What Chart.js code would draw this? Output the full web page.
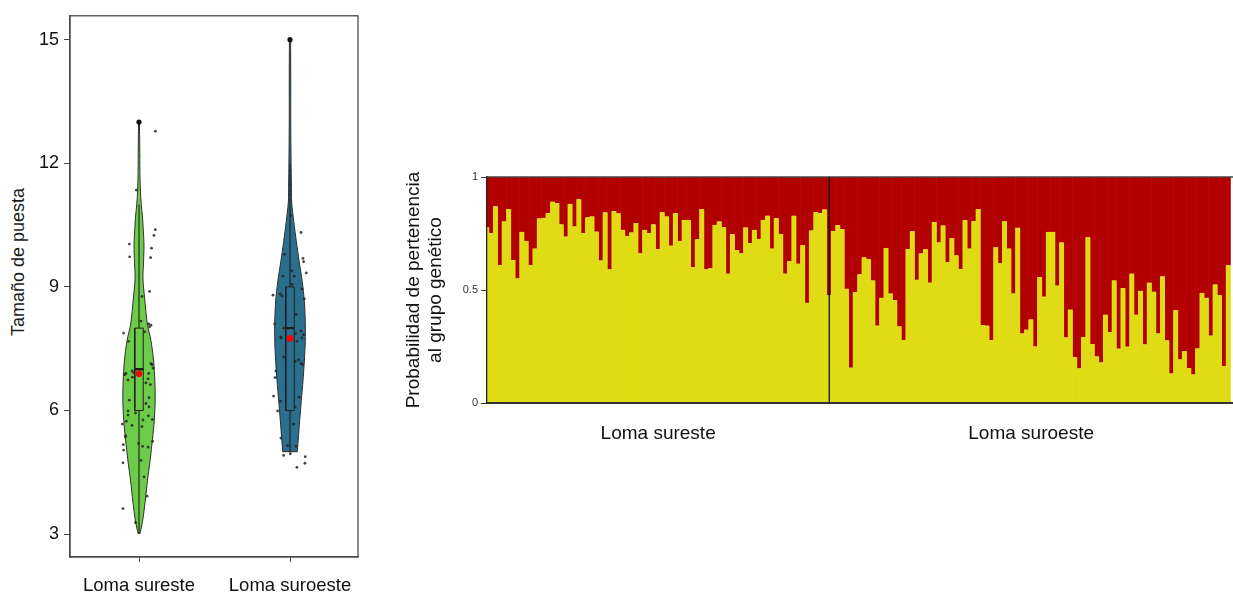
<!DOCTYPE html>
<html><head><meta charset="utf-8">
<script src="https://cdn.jsdelivr.net/npm/chart.js@4/dist/chart.umd.min.js"></script>
<style>
html,body{margin:0;padding:0;background:#fff;width:1233px;height:594px;overflow:hidden;position:relative}
#c1{position:absolute;left:0;top:0;width:370px;height:594px}
#c2{position:absolute;left:370px;top:0;width:863px;height:594px}
#ytitle{position:absolute;left:18px;top:262px;transform:translate(-50%,-50%) rotate(-90deg);font:18px "Liberation Sans",Arial,Helvetica,sans-serif;white-space:nowrap;color:#1a1a1a}
</style></head><body>
<div id="ytitle">Tamaño de puesta</div>
<canvas id="c1" width="370" height="594"></canvas>
<canvas id="c2" width="863" height="594"></canvas>
<script>
// ---------- Violin plot data ----------
const groups = ['Loma sureste', 'Loma suroeste'];
const clutchTicks = [3, 6, 9, 12, 15];

const greenDensityY = [3.0, 3.3, 3.8, 4.3, 4.8, 5.3, 5.75, 6.25, 6.7, 7.2, 7.7, 8.1, 8.7, 9.2, 9.6, 10.0, 10.4, 10.7, 11.0, 11.35, 11.8, 12.4, 13.0];
const greenDensityW = [0.005, 0.023, 0.041, 0.056, 0.074, 0.089, 0.101, 0.107, 0.105, 0.097, 0.079, 0.055, 0.038, 0.026, 0.030, 0.033, 0.028, 0.023, 0.015, 0.009, 0.006, 0.005, 0.003];
const blueDensityY = [5.0, 5.27, 5.75, 6.24, 6.72, 7.2, 7.68, 8.17, 8.65, 9.13, 9.61, 10.1, 10.58, 11.06, 11.5, 12, 13, 14, 15];
const blueDensityW = [0.048, 0.054, 0.064, 0.075, 0.086, 0.095, 0.101, 0.101, 0.095, 0.081, 0.061, 0.042, 0.025, 0.011, 0.009, 0.007, 0.005, 0.005, 0.004];

const greenBox = [3, 6, 7, 8, 11];   // min, q1, median, q3, max
const blueBox  = [5, 6, 8, 9, 12];
const groupMeans = [6.89, 7.75];
const greenOutliers = [13];
const blueOutliers = [15];

const greenPtsY = [12.78, 11.35, 10.39, 10.25, 10.04, 9.94, 9.73, 9.71, 8.89, 8.77, 8.17, 8.10, 8.07, 8.03, 7.88, 7.91, 7.68, 7.14, 7.11, 7.03, 6.90, 6.87, 6.96, 6.92, 6.90, 6.74, 6.81, 6.77, 6.67, 6.63, 6.31, 6.25, 6.17, 6.09, 5.99, 5.89, 5.87, 5.94, 5.77, 5.78, 5.74, 5.67, 5.64, 5.61, 5.39, 5.36, 5.25, 5.20, 5.17, 5.13, 5.11, 5.04, 4.79, 4.73, 4.39, 3.92, 3.62, 3.28];
const greenPtsJitter = [0.108, -0.018, 0.108, 0.099, -0.064, 0.083, -0.062, 0.077, 0.070, 0.020, 0.013, 0.064, 0.079, 0.070, -0.102, 0.037, -0.069, 0.079, 0.086, 0.093, -0.086, -0.095, -0.046, -0.036, 0.064, -0.073, -0.044, 0.060, 0.046, 0.075, 0.066, -0.064, 0.046, 0.066, -0.073, -0.073, 0.062, -0.023, 0.026, 0.088, -0.084, -0.111, -0.046, 0.020, -0.089, -0.091, 0.090, -0.003, -0.104, 0.024, 0.060, -0.102, 0.013, -0.106, 0.033, 0.053, -0.106, -0.023];
const bluePtsY = [10.73, 10.32, 9.79, 9.69, 9.61, 9.34, 9.39, 9.26, 9.26, 9.06, 8.95, 8.80, 8.83, 8.78, 8.71, 8.33, 8.10, 8.00, 7.93, 7.76, 7.78, 7.84, 7.76, 7.87, 7.68, 7.30, 7.23, 7.19, 7.12, 7.14, 6.96, 6.80, 6.35, 6.23, 6.32, 5.99, 6.09, 5.67, 5.33, 5.15, 5.13, 4.91, 4.95, 4.88, 4.72, 4.62];
const bluePtsJitter = [0.004, 0.073, -0.036, 0.086, 0.090, 0.108, 0.013, -0.046, 0.028, 0.015, 0.079, -0.113, -0.064, -0.053, 0.095, 0.040, -0.102, -0.042, 0.073, -0.058, -0.062, 0.090, 0.079, 0.037, 0.046, -0.042, 0.057, 0.035, 0.083, 0.073, -0.093, -0.099, -0.109, -0.064, 0.060, -0.082, 0.033, 0.024, -0.060, -0.016, 0.040, -0.042, 0.002, 0.101, 0.099, 0.046];

// ---------- STRUCTURE plot data (membership to cluster 1, yellow) ----------
const siteNames = ['Loma sureste', 'Loma suroeste'];
const probTicks = [0, 0.5, 1];
const suresteQ = [0.778, 0.751, 0.870, 0.609, 0.803, 0.858, 0.633, 0.551, 0.757, 0.717,
  0.609, 0.683, 0.816, 0.819, 0.840, 0.890, 0.884, 0.790, 0.736, 0.881,
  0.781, 0.901, 0.751, 0.821, 0.825, 0.758, 0.630, 0.843, 0.591, 0.849,
  0.839, 0.766, 0.739, 0.754, 0.796, 0.662, 0.766, 0.751, 0.790,
  0.680, 0.844, 0.825, 0.696, 0.840, 0.717, 0.810, 0.810, 0.601, 0.724,
  0.858, 0.591, 0.596, 0.788, 0.803, 0.778, 0.572, 0.747, 0.677, 0.662,
  0.776, 0.707, 0.766, 0.726, 0.810, 0.828, 0.683, 0.818, 0.748, 0.572,
  0.627, 0.828, 0.616, 0.699, 0.443, 0.763, 0.844, 0.840, 0.856];
const suroesteQ = [0.476, 0.761, 0.787, 0.770, 0.505, 0.156, 0.490, 0.569, 0.644, 0.636,
  0.542, 0.342, 0.465, 0.686, 0.484, 0.455, 0.339, 0.279, 0.681, 0.761,
  0.545, 0.662, 0.680, 0.532, 0.801, 0.710, 0.785, 0.624, 0.729, 0.653,
  0.593, 0.809, 0.683, 0.804, 0.858, 0.345, 0.342, 0.279, 0.689, 0.618,
  0.804, 0.683, 0.484, 0.775, 0.307, 0.324, 0.369, 0.250, 0.557, 0.470,
  0.757, 0.757, 0.519, 0.710, 0.290, 0.413, 0.203, 0.153, 0.292, 0.733,
  0.261, 0.206, 0.179, 0.390, 0.313, 0.542, 0.240, 0.508, 0.249, 0.572,
  0.390, 0.496, 0.259, 0.532, 0.492, 0.307, 0.560, 0.277, 0.130, 0.410,
  0.193, 0.230, 0.154, 0.126, 0.241, 0.487, 0.465, 0.298, 0.524, 0.477,
  0.164, 0.609];

// ---------- common ----------
Chart.defaults.font.family = '"Liberation Sans", Arial, Helvetica, sans-serif';
Chart.defaults.animation = false;
Chart.defaults.plugins.legend.display = false;
Chart.defaults.plugins.tooltip.enabled = false;

const GREEN = '#6CCB48', BLUE = '#2B6F8E', OUTLINE = '#2e2e2e';
const BOX_HALF = 0.028;

function violinHalves(center, ys, ws, color) {
  return [1, -1].map(sign => ({
    type: 'line', indexAxis: 'y',
    data: ys.map((y, i) => ({x: center + sign * ws[i], y})),
    fill: {value: center}, backgroundColor: color,
    borderColor: OUTLINE, borderWidth: 1, pointRadius: 0, tension: 0.3, order: 10
  }));
}
function lineDs(points, width, order) {
  return {type: 'line', data: points, borderColor: '#1e1e1e', borderWidth: width,
    pointRadius: 0, fill: false, tension: 0, order};
}
function boxDatasets(center, b) {
  const [mn, q1, md, q3, mx] = b;
  return [
    lineDs([{x: center - BOX_HALF, y: q1}, {x: center + BOX_HALF, y: q1}, {x: center + BOX_HALF, y: q3},
            {x: center - BOX_HALF, y: q3}, {x: center - BOX_HALF, y: q1}], 1, 5),
    lineDs([{x: center - BOX_HALF, y: md}, {x: center + BOX_HALF, y: md}], 2.4, 5),
    lineDs([{x: center, y: mn}, {x: center, y: q1}], 1.1, 6),
    lineDs([{x: center, y: q3}, {x: center, y: mx}], 1.1, 6)
  ];
}
function pts(center, ys, jit, color, r, order) {
  return {type: 'scatter', data: ys.map((y, i) => ({x: center + (jit ? jit[i] : 0), y})),
    backgroundColor: color, borderWidth: 0, pointRadius: r, order};
}

const frame = {
  id: 'frame',
  afterDraw(chart) {
    const {ctx, chartArea: a} = chart;
    ctx.save(); ctx.strokeStyle = '#4a4a4a'; ctx.lineWidth = 1.3;
    ctx.strokeRect(a.left, a.top, a.right - a.left, a.bottom - a.top);
    ctx.restore();
  }
};

const violinData = [
  ...violinHalves(1, greenDensityY, greenDensityW, GREEN),
  ...violinHalves(2, blueDensityY, blueDensityW, BLUE),
  lineDs([{x: 2 - blueDensityW[0], y: blueDensityY[0]}, {x: 2 + blueDensityW[0], y: blueDensityY[0]}], 1, 9),
  ...boxDatasets(1, greenBox),
  ...boxDatasets(2, blueBox),
  pts(1, greenPtsY, greenPtsJitter, 'rgba(35,35,35,0.85)', 1.4, 3),
  pts(2, bluePtsY, bluePtsJitter, 'rgba(35,35,35,0.85)', 1.4, 3),
  pts(1, greenOutliers, null, '#111', 2.6, 2),
  pts(2, blueOutliers, null, '#111', 2.6, 2),
  {type: 'scatter', data: groupMeans.map((m, i) => ({x: i + 1, y: m})), backgroundColor: '#ff0000', borderWidth: 0, pointRadius: 3.3, order: 1}
];

new Chart(document.getElementById('c1'), {
  type: 'scatter',
  data: {datasets: violinData},
  options: {
    responsive: false,
    layout: {padding: {left: 0, right: 12, top: 13, bottom: 0}},
    scales: {
      x: {
        type: 'linear', min: 0.543, max: 2.4503,
        afterBuildTicks: ax => { ax.ticks = groups.map((_, i) => ({value: i + 1})); },
        afterFit: ax => { ax.height = 37; },
        ticks: {callback: v => groups[Math.round(v) - 1], font: {size: 18.5}, color: '#111', padding: 13, maxRotation: 0, autoSkip: false},
        grid: {drawOnChartArea: false, drawTicks: true, tickLength: 5, color: '#444'},
        border: {color: '#4a4a4a', width: 1.3}
      },
      y: {
        type: 'linear', min: 2.4447, max: 15.5795,
        afterBuildTicks: ax => { ax.ticks = clutchTicks.map(v => ({value: v})); },
        afterFit: ax => { ax.width = 70; },
        ticks: {font: {size: 18}, color: '#111', padding: 5},
        grid: {drawOnChartArea: false, drawTicks: true, tickLength: 6, color: '#444'},
        border: {color: '#4a4a4a', width: 1.3}
      }
    }
  },
  plugins: [frame]
});

// ---------- STRUCTURE bar plot ----------
const q1All = suresteQ.concat(suroesteQ);
const q2All = q1All.map(v => 1 - v);
const ids = q1All.map((_, i) => String(i + 1));
const nTotal = q1All.length;
const groupCenters = [suresteQ.length / 2, suresteQ.length + suroesteQ.length / 2];

const BAR_W = 5;
const barCommon = {borderWidth: 0, barThickness: BAR_W, inflateAmount: 0, order: 5};

new Chart(document.getElementById('c2'), {
  type: 'bar',
  data: {
    labels: ids,
    datasets: [
      {...barCommon, data: q1All, backgroundColor: '#DFDB14'},
      {...barCommon, data: q2All, backgroundColor: '#B20000'},
      {type: 'line', xAxisID: 'x2', stack: 'divider', data: [{x: suresteQ.length, y: 0}, {x: suresteQ.length, y: 1}],
        borderColor: '#111', borderWidth: 1.3, pointRadius: 0, fill: false, order: 1},
      {type: 'line', xAxisID: 'x2', stack: 'topline', data: [{x: 0, y: 1}, {x: nTotal, y: 1}],
        borderColor: '#444', borderWidth: 1.5, pointRadius: 0, fill: false, order: 1, clip: 2}
    ]
  },
  options: {
    responsive: false,
    datasets: {bar: {barThickness: BAR_W, barPercentage: 1, categoryPercentage: 1}},
    layout: {padding: {left: 0, right: 0, top: 177, bottom: 131}},
    scales: {
      x: {type: 'category', stacked: true, display: false, offset: true},
      x2: {
        type: 'linear', position: 'bottom', min: 0, max: nTotal, offset: false,
        afterBuildTicks: ax => { ax.ticks = groupCenters.map(v => ({value: v})); },
        afterFit: ax => { ax.height = 60; },
        ticks: {callback: (v, i) => siteNames[i], font: {size: 19}, color: '#111', padding: 19, maxRotation: 0, autoSkip: false},
        grid: {display: false, drawTicks: false, offset: false},
        border: {display: true, color: '#333', width: 2, z: 1}
      },
      y: {
        stacked: true, min: 0, max: 1,
        afterBuildTicks: ax => { ax.ticks = probTicks.map(v => ({value: v})); },
        afterFit: ax => { ax.width = 117; },
        ticks: {font: {size: 11}, color: '#333', padding: 3, callback: v => String(v)},
        grid: {drawOnChartArea: false, drawTicks: true, tickLength: 6, color: '#333'},
        border: {color: '#222', width: 1.3, z: 1},
        title: {display: true, text: ['Probabilidad de pertenencia', 'al grupo genético'],
          font: {size: 19, lineHeight: 1.15}, color: '#111', padding: {top: 33, bottom: 0}}
      }
    }
  }
});
</script>
</body></html>
